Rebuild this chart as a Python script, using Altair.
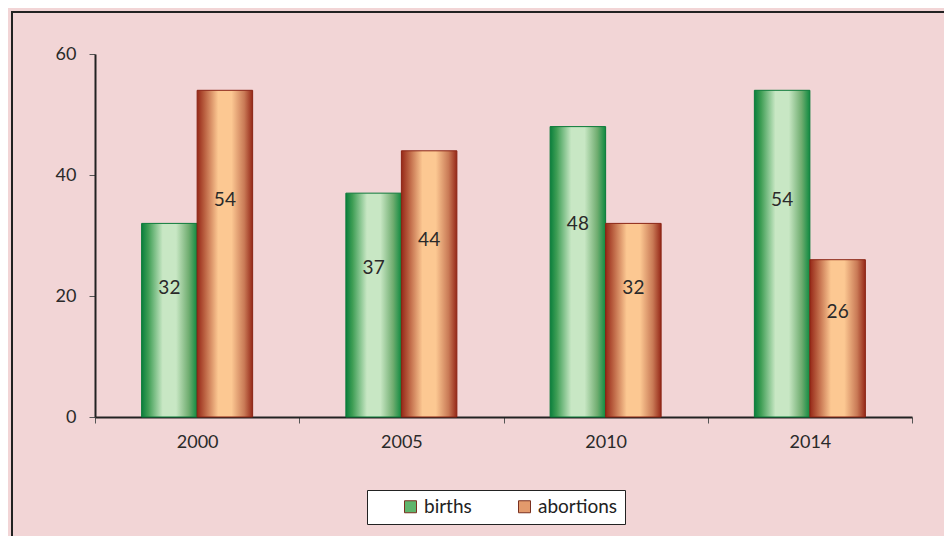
import altair as alt
import pandas as pd

years = ["2000", "2005", "2010", "2014"]
series = ["births", "abortions"]
births = [32, 37, 48, 54]
abortions = [54, 44, 32, 26]
y_ticks = [0, 20, 40, 60]

rows = []
for i, yr in enumerate(years):
    rows.append({"year": yr, "series": "births", "value": births[i]})
    rows.append({"year": yr, "series": "abortions", "value": abortions[i]})
df = pd.DataFrame(rows)

FONT = "Lato"
BG = "#F2D5D6"

green_grad = alt.LinearGradient(
    gradient="linear", x1=0, x2=1, y1=0, y2=0,
    stops=[
        alt.GradientStop(offset=0, color="#0a7f3c"),
        alt.GradientStop(offset=0.12, color="#3f9e55"),
        alt.GradientStop(offset=0.38, color="#c8e7c4"),
        alt.GradientStop(offset=0.62, color="#c8e7c4"),
        alt.GradientStop(offset=0.85, color="#70ad70"),
        alt.GradientStop(offset=1, color="#0f8a40"),
    ],
)
orange_grad = alt.LinearGradient(
    gradient="linear", x1=0, x2=1, y1=0, y2=0,
    stops=[
        alt.GradientStop(offset=0, color="#962818"),
        alt.GradientStop(offset=0.12, color="#b65a3c"),
        alt.GradientStop(offset=0.38, color="#fcc892"),
        alt.GradientStop(offset=0.62, color="#fcc892"),
        alt.GradientStop(offset=0.85, color="#c97a56"),
        alt.GradientStop(offset=1, color="#962818"),
    ],
)

x_enc = alt.X(
    "year:N", sort=years, title=None,
    scale=alt.Scale(paddingInner=0, paddingOuter=0),
    axis=alt.Axis(
        tickBand="extent", labelAngle=0, labelFont=FONT, labelFontSize=18,
        labelColor="#2a2a2a", labelPadding=10, domainColor="#222222",
        domainWidth=2, tickColor="#555555", tickSize=6, tickWidth=1,
    ),
)
y_enc = alt.Y(
    "value:Q", title=None,
    scale=alt.Scale(domain=[0, 60], nice=False),
    axis=alt.Axis(
        values=y_ticks, grid=False, labelFont=FONT, labelFontSize=18,
        labelColor="#2a2a2a", labelPadding=13, domainColor="#222222",
        domainWidth=2, tickColor="#555555", tickSize=6, tickWidth=1,
    ),
)
xoff = alt.XOffset(
    "series:N", sort=series,
    scale=alt.Scale(domain=series, paddingOuter=0.84, paddingInner=0),
)

base = alt.Chart(df)

bars_b = base.transform_filter(alt.datum.series == "births").mark_bar(
    fill=green_grad, stroke="#0a7a38", strokeWidth=1
).encode(x=x_enc, xOffset=xoff, y=y_enc)

bars_a = base.transform_filter(alt.datum.series == "abortions").mark_bar(
    fill=orange_grad, stroke="#8a2414", strokeWidth=1
).encode(x=x_enc, xOffset=xoff, y=y_enc)

legend_pts = base.mark_point(filled=True, opacity=0, size=0).encode(
    x=x_enc, xOffset=xoff, y=y_enc,
    color=alt.Color(
        "series:N", sort=series,
        scale=alt.Scale(domain=series, range=["#5fb56c", "#e39a6c"]),
        legend=alt.Legend(
            title="\u00a0", titleOrient="left", titlePadding=27,
            titleFontSize=19, titleFont=FONT,
            orient="none", direction="horizontal",
            legendX=272, legendY=436,
            symbolType="square", symbolSize=144, symbolOpacity=1,
            symbolStrokeColor="#7a3020", symbolStrokeWidth=1,
            labelFont=FONT, labelFontSize=19, labelColor="#222222",
            labelOffset=4, columnPadding=43,
            labelExpr="datum.label == 'abortions' ? datum.label + '\u2003' : datum.label",
            fillColor="white", strokeColor="#222222", padding=7,
        ),
    ),
)

labels = base.transform_calculate(pos="datum.value * 0.665").mark_text(
    font=FONT, fontSize=19, color="#2a2a2a", baseline="middle", align="center"
).encode(
    x=x_enc, xOffset=xoff,
    y=alt.Y("pos:Q", scale=alt.Scale(domain=[0, 60], nice=False)),
    text=alt.Text("value:Q"),
)

frame = alt.Chart(pd.DataFrame({"k": [0]})).mark_rect(
    fill=None, stroke="#222222", strokeWidth=2
).encode(
    x=alt.value(-83), x2=alt.value(900), y=alt.value(-42), y2=alt.value(560)
)

chart = alt.layer(frame, bars_b, bars_a, labels, legend_pts).properties(
    width=817, height=363,
    autosize=alt.AutoSizeParams(type="none"),
    padding={"left": 87, "top": 46, "right": 32, "bottom": 119},
    background=BG,
).configure_view(stroke=None)

chart.save("out.html", embed_options={"renderer": "svg", "actions": False})
